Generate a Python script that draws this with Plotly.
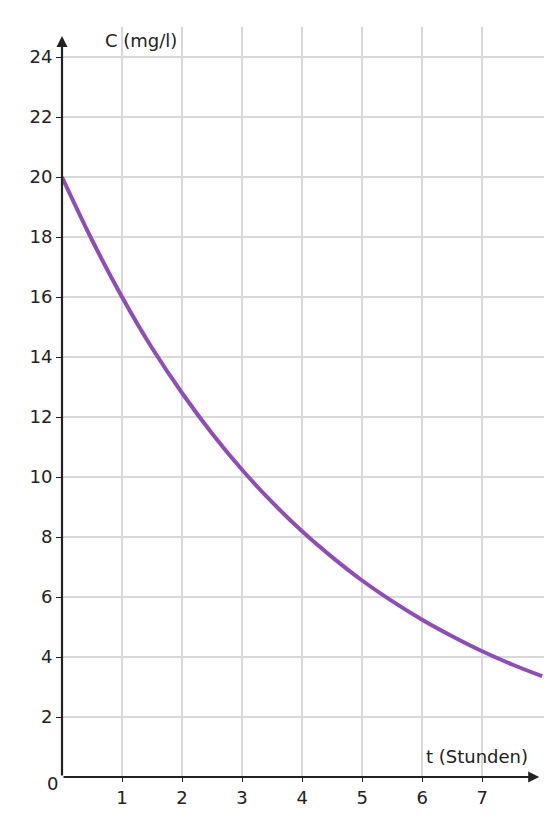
import plotly.graph_objects as go

t_hours = [0, 0.5, 1, 1.5, 2, 2.5, 3, 3.5, 4, 4.5, 5, 5.5, 6, 6.5, 7, 7.5, 8]
conc = [20, 17.9, 16, 14.3, 12.8, 11.45, 10.24, 9.16, 8.19, 7.33, 6.55, 5.86, 5.24, 4.69, 4.19, 3.75, 3.36]
x_ticks = [1, 2, 3, 4, 5, 6, 7]
y_ticks = [2, 4, 6, 8, 10, 12, 14, 16, 18, 20, 22, 24]

fig = go.Figure()
fig.add_trace(go.Scatter(x=t_hours, y=conc, mode="lines", line=dict(color="#8e4db8", width=4, shape="spline"), hoverinfo="skip", cliponaxis=False))

font = dict(family="DejaVu Sans", size=18, color="#222")
fig.update_layout(
    width=553, height=818, margin=dict(l=54, r=17, t=19, b=49),
    paper_bgcolor="white", plot_bgcolor="white", showlegend=False, font=font,
    xaxis=dict(range=[0, 8.03], tickvals=x_ticks, showgrid=True, gridcolor="#d9d9d9", gridwidth=1.5, automargin=False,
               zeroline=False, showline=False, ticks="outside", ticklen=4, tickcolor="#222", tickfont=font),
    yaxis=dict(range=[0, 25.0], tickvals=y_ticks, showgrid=True, gridcolor="#d9d9d9", gridwidth=1.5, automargin=False,
               zeroline=False, showline=False, ticks="outside", ticklen=5, tickcolor="#222", tickfont=font),
)
fig.add_annotation(x=0, y=24.7, ax=0, ay=0, xref="x", yref="y", axref="x", ayref="y", text="",
                   showarrow=True, arrowhead=2, arrowsize=1, arrowwidth=2.2, arrowcolor="#222")
fig.add_annotation(x=7.95, y=0, ax=0, ay=0, xref="x", yref="y", axref="x", ayref="y", text="",
                   showarrow=True, arrowhead=2, arrowsize=1, arrowwidth=2.2, arrowcolor="#222")
fig.add_annotation(x=0.68, y=24.55, xref="x", yref="y", text="C (mg/l)", showarrow=False, xanchor="left", font=font)
fig.add_annotation(x=7.8, y=0.7, xref="x", yref="y", text="t (Stunden)", showarrow=False, xanchor="right", font=font)
fig.add_annotation(x=0, y=0, xref="paper", yref="paper", xshift=-17, yshift=-19, text="0", showarrow=False, font=font)

fig.write_html("out.html")
